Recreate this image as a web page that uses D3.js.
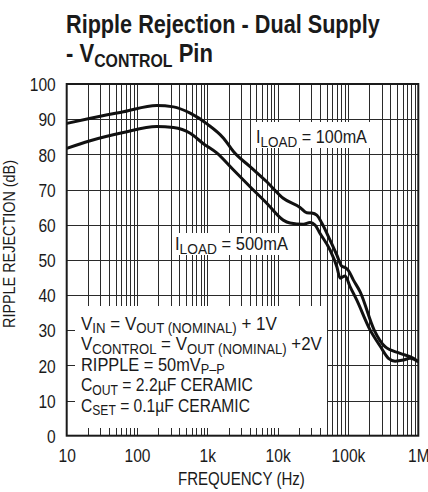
<!DOCTYPE html>
<html>
<head>
<meta charset="utf-8">
<script src="https://cdn.jsdelivr.net/npm/d3@7"></script>
<style>
  body { margin: 0; background: #fff; }
  svg { display: block; font-family: "Liberation Sans Narrow", "Liberation Sans", Arial, sans-serif; fill: #1a1a1a; }
</style>
</head>
<body>
<div id="chart"></div>
<script>
(function() {
  var freqTicks = [10, 100, 1000, 10000, 100000, 1000000];
  var freqLabels = ['10', '100', '1k', '10k', '100k', '1M'];
  var rejTicks = [0, 10, 20, 30, 40, 50, 60, 70, 80, 90, 100];

  // I_LOAD = 100mA
  var freq100 = [10, 21, 64, 190, 330, 570, 1000, 1700, 2350, 4050, 7000, 12000, 20800,
                 25900, 30500, 36000, 42400, 55600, 69300, 81600, 91000, 101000, 119000,
                 149000, 235000, 337000, 551000, 851000, 1000000];
  var rej100 = [88.8, 90.2, 92.1, 93.9, 93.5, 91.7, 88.6, 84.6, 80.8, 76.5, 72.2, 67.5, 64.9,
                63.4, 63.3, 62.7, 60.5, 55.6, 51.4, 48.2, 47.8, 47.0, 44.3,
                40.9, 30.1, 25.3, 23.4, 22.0, 21.0];

  // I_LOAD = 500mA
  var freq500 = [10, 21, 64, 190, 330, 570, 870, 1360, 2340, 4050, 7000, 12000, 15000,
                 23200, 28900, 34000, 40100, 55600, 69300, 77200, 91000, 107000, 133000,
                 206000, 286000, 376000, 468000, 614000, 764000, 1000000];
  var rej500 = [81.7, 83.8, 86.2, 87.9, 87.6, 86.0, 83.1, 80.4, 75.6, 70.8, 66.1, 61.3, 60.5,
                60.1, 60.6, 59.9, 57.5, 52.8, 48.1, 44.8, 45.4, 42.4, 38.6,
                30.1, 25.5, 22.0, 21.2, 21.5, 22.0, 21.0];

  var width = 428, height = 492;
  var left = 66.7, right = 418.3, top = 84, bottom = 435.7;
  var narrow = 0.82;

  var svg = d3.select('#chart').append('svg').attr('width', width).attr('height', height);

  var x = d3.scaleLog().domain([10, 1000000]).range([left, right]);
  var y = d3.scaleLinear().domain([0, 100]).range([bottom, top]);

  // text squeezed to a width (no condensed face installed)
  var fitText = function(x0, y0, w, size, parts, opts) {
    opts = opts || {};
    var g = svg.append('g');
    var el = g.append('text').attr('font-size', size);
    if (opts.bold) el.attr('font-weight', 'bold');
    var down = false, dy = opts.dy || 3.5;
    parts.forEach(function(p) {
      var s = el.append('tspan').text(p[0]);
      if (p[1] && !down) { s.attr('font-size', opts.sub || size * 0.76).attr('dy', dy); down = true; }
      else if (!p[1] && down) { s.attr('dy', -dy); down = false; }
    });
    var bw = el.node().getComputedTextLength();
    var k = w / bw;
    if (opts.rotate) {
      g.attr('transform', 'translate(' + x0 + ',' + y0 + ') rotate(-90) scale(' + k + ',1)');
    } else {
      g.attr('transform', 'translate(' + x0 + ',' + y0 + ') scale(' + k + ',1)');
    }
    return g;
  };

  // title
  fitText(66, 33, 314, 25, [['Ripple Rejection - Dual Supply']], { bold: true });
  fitText(66, 62, 147, 25, [['- V'], ['CONTROL', 1], [' Pin']], { bold: true, sub: 18, dy: 5 });

  // grid
  var grid = svg.append('g').attr('stroke', '#2a2a2a').attr('stroke-width', 1);
  grid.selectAll('line.v').data(x.ticks().filter(function(d) {
    return d > 10 && d < 1000000;
  })).enter().append('line').attr('class', 'v')
    .attr('x1', function(d) { return Math.round(x(d)) + 0.5; })
    .attr('x2', function(d) { return Math.round(x(d)) + 0.5; })
    .attr('y1', top).attr('y2', bottom);
  grid.selectAll('line.h').data(rejTicks.slice(1, -1)).enter().append('line').attr('class', 'h')
    .attr('x1', left).attr('x2', right)
    .attr('y1', function(d) { return Math.round(y(d)) + 0.5; })
    .attr('y2', function(d) { return Math.round(y(d)) + 0.5; });

  // curves
  var line = d3.line().x(function(d) { return x(d[0]); }).y(function(d) { return y(d[1]); })
    .curve(d3.curveMonotoneX);
  [[freq100, rej100], [freq500, rej500]].forEach(function(s) {
    svg.append('path').datum(d3.zip(s[0], s[1])).attr('d', line)
      .attr('fill', 'none').attr('stroke', '#111').attr('stroke-width', 3)
      .attr('stroke-linejoin', 'round');
  });

  // label boxes
  svg.append('rect').attr('x', 253).attr('y', 122).attr('width', 117).attr('height', 26).attr('fill', '#fff');
  svg.append('rect').attr('x', 172).attr('y', 233).attr('width', 120).attr('height', 22).attr('fill', '#fff');
  svg.append('rect').attr('x', 75).attr('y', 306).attr('width', 252).attr('height', 122).attr('fill', '#fff');

  fitText(256, 143, 111, 18, [['I'], ['LOAD', 1], [' = 100mA']], { sub: 15, dy: 4 });
  fitText(175, 250, 113, 18, [['I'], ['LOAD', 1], [' = 500mA']], { sub: 15, dy: 4 });

  fitText(81, 329.5, 196, 18, [['V'], ['IN', 1], [' = V'], ['OUT (NOMINAL)', 1], [' + 1V']], { sub: 14 });
  fitText(81, 350, 241, 18, [['V'], ['CONTROL', 1], [' = V'], ['OUT (NOMINAL)', 1], [' +2V']], { sub: 14 });
  fitText(81, 370.5, 144, 18, [['RIPPLE = 50mV'], ['P\u2013P', 1]], { sub: 14 });
  fitText(81, 391, 172, 18, [['C'], ['OUT', 1], [' = 2.2\u00b5F CERAMIC']], { sub: 14 });
  fitText(81, 411.5, 169, 18, [['C'], ['SET', 1], [' = 0.1\u00b5F CERAMIC']], { sub: 14 });

  // frame
  svg.append('rect').attr('x', left).attr('y', top).attr('width', right - left).attr('height', bottom - top)
    .attr('fill', 'none').attr('stroke', '#1a1a1a').attr('stroke-width', 2);

  // axes labels
  var squeeze = function() {
    var ax = +this.getAttribute('x') || 0;
    return 'translate(' + ax + ',0) scale(' + narrow + ',1) translate(' + (-ax) + ',0)';
  };
  var xAxis = d3.axisBottom(x).tickValues(freqTicks).tickSize(0).tickPadding(0)
    .tickFormat(function(d, i) { return freqLabels[i]; });
  var gx = svg.append('g').attr('transform', 'translate(0,' + bottom + ')').call(xAxis);
  gx.select('.domain').remove();
  gx.selectAll('text').attr('font-size', 19).attr('fill', '#1a1a1a')
    .attr('dy', null).attr('y', 26).attr('transform', squeeze);
  gx.attr('font-family', null);

  var yAxis = d3.axisLeft(y).tickValues(rejTicks).tickSize(0).tickPadding(11);
  var gy = svg.append('g').attr('transform', 'translate(' + left + ',0)').call(yAxis);
  gy.select('.domain').remove();
  gy.selectAll('text').attr('font-size', 19).attr('fill', '#1a1a1a')
    .attr('dy', '0.35em').attr('transform', squeeze);
  gy.attr('font-family', null);

  fitText(178, 485, 127, 18, [['FREQUENCY (Hz)']]);
  fitText(15, 328, 168, 17, [['RIPPLE REJECTION (dB)']], { rotate: true });
}).call(this);
</script>
</body>
</html>
